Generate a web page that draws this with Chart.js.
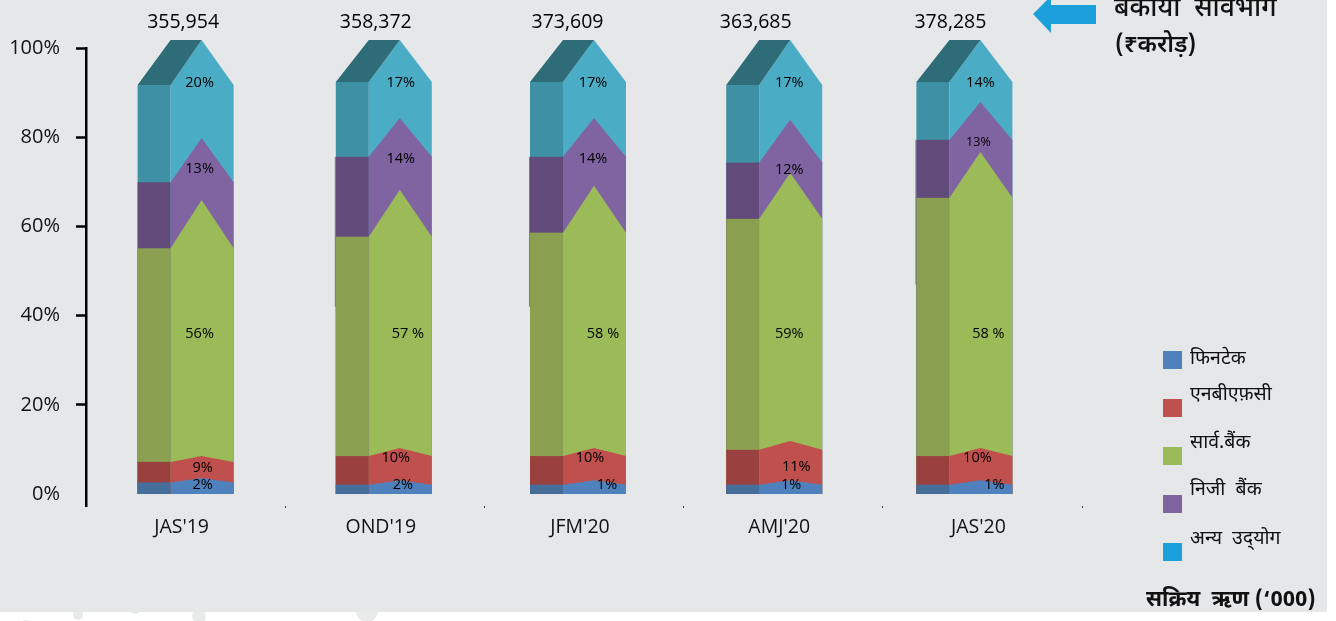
<!DOCTYPE html>
<html><head><meta charset="utf-8">
<style>html,body{margin:0;padding:0;background:#fff}canvas{display:block}</style>
<script src="https://cdn.jsdelivr.net/npm/chart.js@4"></script>
</head><body><canvas id="c" width="1336" height="621"></canvas>
<script>
const categories=["JAS'19","OND'19","JFM'20","AMJ'20","JAS'20"];
const totals=["355,954","358,372","373,609","363,685","378,285"];
const seriesNames=["फिनटेक","एनबीएफ़सी","सार्व.बैंक","निजी  बैंक","अन्य  उद्‌योग"];
// Stacked segment heights as drawn (ridge of each band)
const fintech=[3.6,3.1,3.1,3.1,3.1];
const nbfc=[4.9,7.2,7.2,8.8,7.2];
const psuBank=[57.4,57.9,58.8,60.1,66.4];
const pvtBank=[13.9,16.1,15.2,11.9,11.2];
const others=[22.0,17.5,17.5,17.9,13.9];
// How far each band's shoulder sits below its ridge, in axis units
const fintechDrop=[1.0,1.0,1.0,1.0,1.0];
const nbfcDrop=[1.3,1.8,1.8,2.0,1.8];
const psuDrop=[10.8,10.5,10.5,10.3,10.3];
const pvtDrop=[9.9,8.7,8.7,9.6,8.5];
const othersDrop=[10.1,9.4,9.4,10.1,9.4];
// Printed share labels
const fintechPct=["2%","2%","1%","1%","1%"];
const nbfcPct=["9%","10%","10%","11%","10%"];
const psuPct=["56%","57 %","58 %","59%","58 %"];
const pvtPct=["13%","14%","14%","12%","13%"];
const othersPct=["20%","17%","17%","17%","14%"];
const yTicks=[0,20,40,60,80,100];

const series=[fintech,nbfc,psuBank,pvtBank,others];
const drops=[fintechDrop,nbfcDrop,psuDrop,pvtDrop,othersDrop];
const pcts=[fintechPct,nbfcPct,psuPct,pvtPct,othersPct];
const FRONT=['#4F81BD','#C0504D','#9BBB59','#8064A2','#4BACC6'];
const SIDE=['#456E9A','#9A403E','#8A9F4F','#624B7B','#3E90A4'];
const LEGEND=['#4F81BD','#C0504D','#9BBB59','#8064A2','#1CA0DC'];
const ROOF='#2E6C78';
const BG='#E6E7E9';
const UI="'Open Sans','Noto Sans','Noto Sans Devanagari',sans-serif";
const HI="'Noto Sans Devanagari','Lohit Devanagari','Mangal','Noto Sans',sans-serif";
const BAR_NUDGE=[0,-1,-6,-9,-18];
const TOTAL_DX=[-2.5,-8,-10.5,-18.5,-14];
const LABEL_DX=[[1,3,13,1,14],[1,-4,-4,6,-3],[-2,8,9,-1,8],[-2,1,-1,-1,-2],[-2,1,-1,-1,0]];
const LABEL_DY=[[6,4,4,4,4],[11,9,9,25,9],[133,143,147,160,181],[30,40,40,49,39],[42,42,42,42,42]];
const SLIVER_END=[null,42,42,null,47];

const houses={id:'houses',
 beforeDraw(ch){const g=ch.ctx;g.save();g.fillStyle='#fff';g.fillRect(0,0,1336,621);
  g.fillStyle='#E9EBEB';
  [[26,626,6],[78,615,5],[135,607,7],[199,616,7],[367,611,11]].forEach(b=>{g.beginPath();g.arc(b[0],b[1],b[2],0,7);g.fill()});
  g.fillStyle=BG;g.fillRect(0,0,1327,612);
  g.restore()},
 afterDatasetsDraw(ch){
  const g=ch.ctx,y=ch.scales.y;g.save();
  const nb=categories.length;
  for(let s=series.length-1;s>=0;s--){
   const els=ch.getDatasetMeta(s).data;
   for(let i=0;i<nb;i++){
    const el=els[i],w=el.width,l=el.x-w/2+BAR_NUDGE[i],r=l+w,j=l+33,p=l+64;
    const b=y.getPixelForValue(0);
    const ridge=el.y,sh=ridge+(b-y.getPixelForValue(drops[s][i]));
    if(s===3&&SLIVER_END[i]!==null){g.fillStyle='#7F7396';g.fillRect(l-1,sh,1,y.getPixelForValue(SLIVER_END[i])-sh)}
    g.fillStyle=SIDE[s];g.fillRect(l,sh,j-l,b-sh);
    g.fillStyle=FRONT[s];g.beginPath();g.moveTo(j,sh);g.lineTo(p,ridge);g.lineTo(r,sh);g.lineTo(r,b);g.lineTo(j,b);g.closePath();g.fill();
    if(s===series.length-1){g.fillStyle=ROOF;g.beginPath();g.moveTo(l,sh);g.lineTo(j,ridge);g.lineTo(p,ridge);g.lineTo(j,sh);g.closePath();g.fill();}
   }
  }
  g.fillStyle='#000';g.textAlign='center';g.textBaseline='middle';
  for(let s=0;s<series.length;s++){
   const els=ch.getDatasetMeta(s).data;
   for(let i=0;i<nb;i++){
    const el=els[i],l=el.x-el.width/2+BAR_NUDGE[i],p=l+64;
    g.font=(s===3&&i===4?'12.5px ':'14.5px ')+UI;
    g.fillText(pcts[s][i],p+LABEL_DX[s][i],el.y+LABEL_DY[s][i]+1);
   }
  }
  g.font='19.5px '+UI;
  const top=ch.getDatasetMeta(0).data;
  for(let i=0;i<nb;i++){g.fillText(totals[i],top[i].x+BAR_NUDGE[i]+TOTAL_DX[i],22)}
  // legend
  g.textAlign='left';g.textBaseline='middle';
  const rowY=[351,399,447,495,543],txtY=[360,396,444,491,540];
  seriesNames.forEach((n,k)=>{g.fillStyle=LEGEND[k];g.fillRect(1163,rowY[k],19,18);g.fillStyle='#111';g.font='19.5px '+HI;g.fillText(n,1190,txtY[k])});
  // arrow + notes
  g.fillStyle='#1CA0DC';g.beginPath();g.moveTo(1033,14);g.lineTo(1051,-4);g.lineTo(1051,5);g.lineTo(1096,5);g.lineTo(1096,24);g.lineTo(1051,24);g.lineTo(1051,33);g.closePath();g.fill();
  g.fillStyle='#111';g.font='500 26.5px '+HI;g.fillText('बकाया  संविभाग',1114,11);g.font='600 24px '+HI;g.fillText('(₹करोड़)',1115,48);
  g.font='bold 21.7px '+HI;g.fillText('सक्रिय  ऋण (‘000)',1146,602);
  g.restore();
 }};

new Chart(document.getElementById('c'),{
 type:'bar',
 data:{labels:categories,datasets:series.map((d,s)=>({label:seriesNames[s],data:d,backgroundColor:'rgba(0,0,0,0)',borderWidth:0,barThickness:96,clip:false}))},
 options:{responsive:false,animation:false,
  layout:{padding:{top:48,right:254,left:0,bottom:0}},
  plugins:{legend:{display:false},tooltip:{enabled:false},title:{display:false}},
  scales:{
   x:{stacked:true,afterFit(s){s.height=115},
    grid:{display:true,drawOnChartArea:false,offset:true,tickLength:2,tickColor:c=>c.index===0?'rgba(0,0,0,0)':'#444',tickWidth:1},
    border:{display:false},
    ticks:{color:'#111',font:{family:UI,size:19.5},labelOffset:-4,padding:8,maxRotation:0}},
   y:{stacked:true,min:-2.69,max:100,afterFit(s){s.width=86},
    afterBuildTicks(s){s.ticks=yTicks.map(v=>({value:v}))},
    grid:{drawOnChartArea:false,tickLength:10,tickColor:c=>c.tick&&c.tick.value===0?'rgba(0,0,0,0)':'#000',tickWidth:2.5},
    border:{display:true,color:'#000',width:2.5},
    ticks:{color:'#111',font:{family:UI,size:20},padding:16,callback:v=>v+'%'}}
  }},
 plugins:[houses]});
</script></body></html>
